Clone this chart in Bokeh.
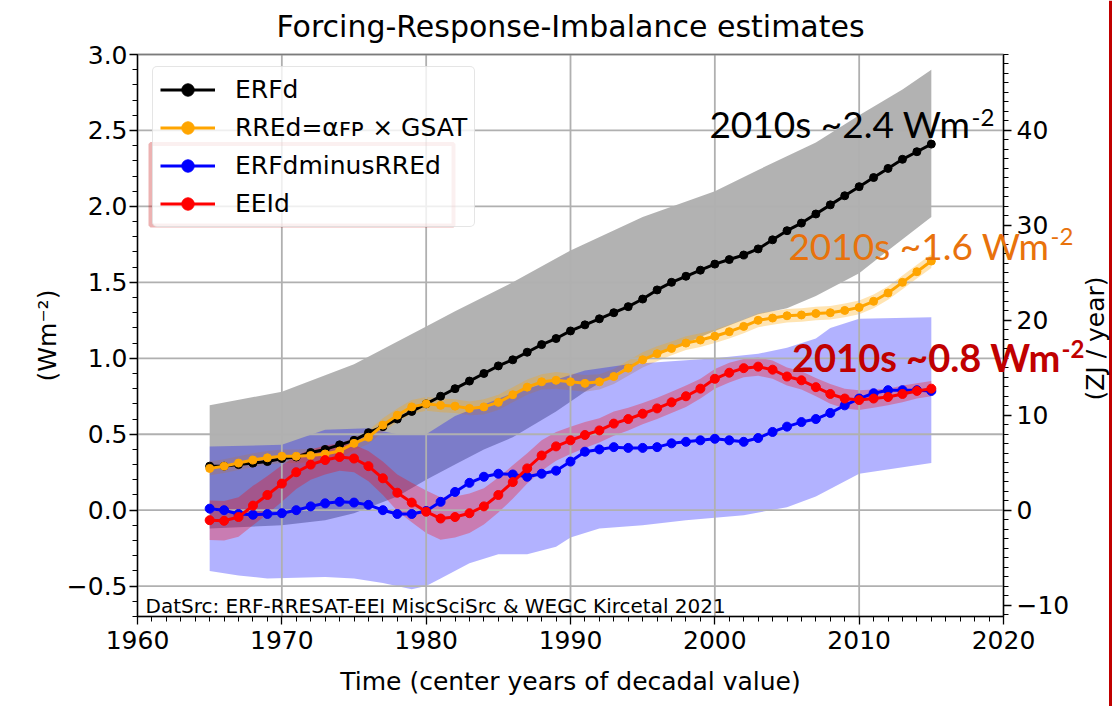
import math
import numpy as np
from bokeh.plotting import figure
from bokeh.models import (Range1d, LinearAxis, FixedTicker, Label, Legend, LegendItem,
                          BoxAnnotation, Span)
from bokeh.embed import file_html
from bokeh.resources import INLINE

# ---------------- data ----------------
years = list(range(1965, 2016))

erfd = [0.29, 0.29, 0.30, 0.31, 0.32, 0.34, 0.35, 0.38, 0.40, 0.43,
        0.46, 0.51, 0.55, 0.60, 0.65, 0.70, 0.75, 0.80, 0.85, 0.90,
        0.95, 0.99, 1.04, 1.09, 1.13, 1.18, 1.22, 1.26, 1.30, 1.34,
        1.39, 1.45, 1.50, 1.54, 1.58, 1.62, 1.65, 1.68, 1.72, 1.78,
        1.84, 1.89, 1.95, 2.01, 2.07, 2.13, 2.19, 2.25, 2.31, 2.36, 2.41]

rred = [0.275, 0.29, 0.31, 0.33, 0.345, 0.355, 0.355, 0.36, 0.37, 0.39,
        0.44, 0.48, 0.56, 0.625, 0.68, 0.70, 0.69, 0.685, 0.67, 0.68,
        0.71, 0.76, 0.81, 0.845, 0.855, 0.845, 0.835, 0.845, 0.88, 0.935,
        0.99, 1.03, 1.065, 1.10, 1.12, 1.145, 1.175, 1.21, 1.25, 1.265,
        1.28, 1.285, 1.295, 1.30, 1.315, 1.335, 1.375, 1.43, 1.50, 1.57, 1.64]

rred_unc = [0.045, 0.045, 0.045, 0.045, 0.045, 0.045, 0.045, 0.045, 0.045, 0.045,
            0.045, 0.045, 0.045, 0.045, 0.045, 0.045, 0.045, 0.045, 0.045, 0.05,
            0.05, 0.05, 0.05, 0.05, 0.055, 0.055, 0.055, 0.05, 0.05, 0.05,
            0.05, 0.05, 0.045, 0.045, 0.045, 0.045, 0.045, 0.045, 0.045, 0.045,
            0.045, 0.045, 0.045, 0.045, 0.045, 0.045, 0.045, 0.045, 0.045, 0.045, 0.045]

erfd_minus_rred = [0.01, 0.00, -0.025, -0.03, -0.025, -0.02, 0.0, 0.025, 0.045, 0.055,
                   0.05, 0.035, 0.0, -0.025, -0.025, -0.005, 0.055, 0.12, 0.18, 0.22,
                   0.24, 0.235, 0.22, 0.24, 0.26, 0.32, 0.385, 0.40, 0.415, 0.41,
                   0.41, 0.415, 0.44, 0.45, 0.46, 0.47, 0.46, 0.45, 0.475, 0.515,
                   0.55, 0.58, 0.60, 0.64, 0.69, 0.735, 0.77, 0.79, 0.79, 0.79, 0.785]

eeid = [-0.066, -0.07, -0.045, 0.03, 0.10, 0.175, 0.25, 0.30, 0.33, 0.35,
        0.34, 0.29, 0.21, 0.115, 0.05, -0.01, -0.055, -0.045, -0.02, 0.025,
        0.10, 0.185, 0.275, 0.36, 0.42, 0.46, 0.495, 0.525, 0.57, 0.60,
        0.635, 0.67, 0.71, 0.75, 0.80, 0.865, 0.905, 0.935, 0.945, 0.925,
        0.88, 0.855, 0.81, 0.765, 0.735, 0.725, 0.735, 0.745, 0.765, 0.785, 0.80]

eeid_unc = [0.13, 0.13, 0.13, 0.13, 0.125, 0.12, 0.11, 0.10, 0.095, 0.09,
            0.09, 0.10, 0.11, 0.12, 0.13, 0.14, 0.14, 0.135, 0.13, 0.12,
            0.115, 0.11, 0.10, 0.10, 0.095, 0.09, 0.085, 0.08, 0.08, 0.075,
            0.07, 0.07, 0.07, 0.07, 0.065, 0.065, 0.065, 0.06, 0.06, 0.06,
            0.06, 0.06, 0.06, 0.065, 0.065, 0.065, 0.06, 0.055, 0.055, 0.05, 0.05]

# ERFd uncertainty range (grey)
erf_hi_years = [1965, 1970, 1975, 1980, 1982, 1986, 1990, 1995, 2000, 2003, 2007, 2010, 2013, 2015]
erf_hi = [0.69, 0.78, 0.96, 1.21, 1.31, 1.50, 1.71, 1.93, 2.10, 2.24, 2.42, 2.60, 2.77, 2.90]
erf_lo_years = [1965, 1970, 1973, 1975, 1978, 1980, 1982, 1984, 1986, 1989, 1991, 1994, 1996,
                2000, 2003, 2005, 2007, 2010, 2012, 2015]
erf_lo = [-0.12, -0.10, -0.066, -0.02, 0.09, 0.20, 0.30, 0.40, 0.48, 0.65, 0.78, 0.95, 1.02,
          1.18, 1.29, 1.33, 1.41, 1.56, 1.71, 1.93]

# ERFdminusRREd uncertainty range (blue)
dif_hi_years = [1965, 1970, 1973, 1976, 1978, 1980, 1982, 1986, 1991, 1994, 2000, 2003, 2005,
                2007, 2008, 2010, 2015]
dif_hi = [0.42, 0.43, 0.53, 0.54, 0.50, 0.50, 0.62, 0.77, 0.92, 0.96, 1.00, 1.03, 1.07,
          1.13, 1.20, 1.26, 1.27]
dif_lo_years = [1965, 1967, 1969, 1973, 1975, 1977, 1979, 1980, 1981, 1983, 1985, 1987, 1989,
                1990, 1992, 1995, 1998, 2002, 2005, 2007, 2010, 2015]
dif_lo = [-0.40, -0.43, -0.45, -0.44, -0.45, -0.48, -0.52, -0.50, -0.45, -0.35, -0.29, -0.29,
          -0.24, -0.18, -0.12, -0.10, -0.066, -0.033, 0.02, 0.09, 0.24, 0.31]

x_ticks = [1960, 1970, 1980, 1990, 2000, 2010, 2020]
y_ticks = [-0.5, 0.0, 0.5, 1.0, 1.5, 2.0, 2.5, 3.0]
y_tick_labels = ["\u22120.5", "0.0", "0.5", "1.0", "1.5", "2.0", "2.5", "3.0"]
zj_ticks = [-10, 0, 10, 20, 30, 40]
zj_tick_labels = ["\u221210", "0", "10", "20", "30", "40"]
zj_per_wm2 = 16.0

XLO, XHI = 1960, 2020      # plot box (axes limits)
YLO, YHI = -0.7, 3.0

FONT = "DejaVu Sans"
ANN_FONT = "Lato"

# ---------------- figure ----------------
# The frame covers the whole canvas so that texts outside the axes box are not clipped;
# the axes are pinned to the box with fixed_location.
W, H = 1114, 706
box_l, box_r, box_t, box_b = 137, 1003, 54, 616          # box edges in canvas pixels
sx = (box_r - box_l) / (XHI - XLO)
sy = (box_b - box_t) / (YHI - YLO)
xr = Range1d(XLO - box_l / sx, XHI + (W - box_r) / sx)
yr = Range1d(YLO - (H - box_b) / sy, YHI + box_t / sy)

def px_to_x(px):
    return XLO + (px - box_l) / sx

def py_to_y(py):
    return YHI - (py - box_t) / sy

p = figure(width=W, height=H, output_backend="svg", toolbar_location=None,
           x_range=xr, y_range=yr, min_border=0)
p.outline_line_color = None
p.background_fill_color = "white"
p.xgrid.visible = False
p.ygrid.visible = False

def style_axis(ax):
    ax.axis_line_color = "black"
    ax.axis_line_width = 1.3
    ax.major_tick_line_width = 1.3
    ax.minor_tick_line_width = 1.0
    ax.major_tick_out = 8
    ax.major_tick_in = 0
    ax.minor_tick_out = 5
    ax.minor_tick_in = 0
    ax.major_label_text_font = FONT
    ax.major_label_text_font_size = "25px"
    ax.major_label_text_color = "black"

xa = p.xaxis[0]
xa.fixed_location = YLO
xa.bounds = (XLO, XHI)
xa.ticker = FixedTicker(ticks=x_ticks, minor_ticks=list(range(XLO, XHI + 1)))
xa.axis_label = "Time (center years of decadal value)"
xa.axis_label_text_font = FONT
xa.axis_label_text_font_size = "25px"
xa.axis_label_text_font_style = "normal"
xa.axis_label_text_color = "black"
xa.axis_label_standoff = 15
xa.major_label_standoff = 6
style_axis(xa)

ya = p.yaxis[0]
ya.fixed_location = XLO
ya.bounds = (YLO, YHI)
y_minor = [round(v / 10, 1) for v in range(-7, 31)]
ya.ticker = FixedTicker(ticks=y_ticks, minor_ticks=y_minor)
ya.major_label_overrides = dict(zip(y_ticks, y_tick_labels))
ya.major_label_standoff = 2
style_axis(ya)

p.extra_y_ranges = {"zj": Range1d(yr.start * zj_per_wm2, yr.end * zj_per_wm2)}
zax = LinearAxis(y_range_name="zj",
                 ticker=FixedTicker(ticks=zj_ticks, minor_ticks=list(range(-11, 49))))
zax.fixed_location = XHI
zax.bounds = (YLO * zj_per_wm2, YHI * zj_per_wm2)
zax.major_label_overrides = dict(zip(zj_ticks, zj_tick_labels))
zax.major_label_standoff = 5
style_axis(zax)
p.add_layout(zax, "right")

# grid lines restricted to the axes box
gx = p.segment(x0=x_ticks, y0=[YLO] * len(x_ticks), x1=x_ticks, y1=[YHI] * len(x_ticks),
               line_color="#b0b0b0", line_width=1.8)
gy = p.segment(x0=[XLO] * len(y_ticks), y0=y_ticks, x1=[XHI] * len(y_ticks), y1=y_ticks,
               line_color="#b0b0b0", line_width=1.8)
gx.level = "underlay"
gy.level = "underlay"

# ---------------- bands ----------------
def band(xh, yh, xl, yl, color, alpha):
    r = p.patch(xh + xl[::-1], yh + yl[::-1], fill_color=color, fill_alpha=alpha,
                line_alpha=0)
    r.level = "image"
    return r

band(erf_hi_years, erf_hi, erf_lo_years, erf_lo, "#000000", 0.3)
rr = np.array(rred); ru = np.array(rred_unc)
band(years, list(rr + ru), years, list(rr - ru), "#FFA500", 0.3)
band(dif_hi_years, dif_hi, dif_lo_years, dif_lo, "#0000FF", 0.3)
ee = np.array(eeid); eu = np.array(eeid_unc)
band(years, list(ee + eu), years, list(ee - eu), "#FF0000", 0.3)

# ---------------- lines ----------------
series = [("ERFd", erfd, "#000000", 8),
          ("RREd=\u03b1\ua730\u1d18 \u00d7 GSAT", rred, "#FFA500", 8),
          ("ERFdminusRREd", erfd_minus_rred, "#0000FF", 9),
          ("EEId", eeid, "#FF0000", 9)]
items = []
for name, vals, col, sz in series:
    l = p.line(years, vals, line_color=col, line_width=3)
    s = p.scatter(years, vals, size=sz, fill_color=col, line_color=col)
    items.append(LegendItem(label=name, renderers=[l, s]))

# axes box outline
p.add_layout(BoxAnnotation(left=XLO, right=XHI, top=YHI, bottom=YLO, fill_alpha=0,
                           line_color="black", line_width=1.3, level="guide"))

legend = Legend(items=items, location=(152, H - 227), margin=0, padding=7, spacing=7,
                label_text_font=FONT, label_text_font_size="25px", label_text_color="black",
                glyph_width=55, glyph_height=31, label_height=31, label_standoff=20,
                background_fill_color="white", background_fill_alpha=0.8,
                border_line_color="#cccccc", border_line_width=1.5)
if "border_radius" in Legend.properties():
    legend.border_radius = 5
p.add_layout(legend)

p.add_layout(BoxAnnotation(left=px_to_x(150), right=px_to_x(453), top=py_to_y(143.5),
                           bottom=py_to_y(225), fill_alpha=0, line_color="#C00000",
                           line_width=4))

p.add_layout(Span(location=px_to_x(1110), dimension="height", line_color="#C00000",
                  line_width=3))

# ---------------- texts ----------------
def text(x, y, s, size, color="black", font=FONT, style="normal", align="center", angle=0.0):
    p.add_layout(Label(x=x, y=y, text=s, text_align=align, text_baseline="middle",
                       text_font=font, text_font_size=size, text_font_style=style,
                       text_color=color, angle=angle))

text((XLO + XHI) / 2, py_to_y(26), "Forcing-Response-Imbalance estimates", "30px")
text(px_to_x(47), py_to_y(335), "(Wm\u207b\u00b2)", "25px", angle=math.pi / 2)
text(px_to_x(1095), py_to_y(338), "(ZJ / year)", "25px", angle=math.pi / 2)
text(px_to_x(145), py_to_y(605), "DatSrc: ERF-RRESAT-EEI MiscSciSrc & WEGC Kircetal 2021",
     "20px", align="left")

anns = [("2010s ~2.4 Wm", 970, 123, 117, "#000000", "normal", "37px"),
        ("2010s ~1.6 Wm", 1049, 245, 236, "#E8720C", "normal", "37px"),
        ("2010s ~0.8 Wm", 1060, 356, 348, "#C00000", "bold", "38px")]
for txt, xj, ymain, ysup, col, sty, fs in anns:
    text(px_to_x(xj), py_to_y(ymain), txt, fs, color=col, font=ANN_FONT, style=sty,
         align="right")
    text(px_to_x(xj + 1), py_to_y(ysup), "-2", "24px", color=col, font=ANN_FONT, style=sty,
         align="left")

open("out.html", "w").write(file_html(p, INLINE))
